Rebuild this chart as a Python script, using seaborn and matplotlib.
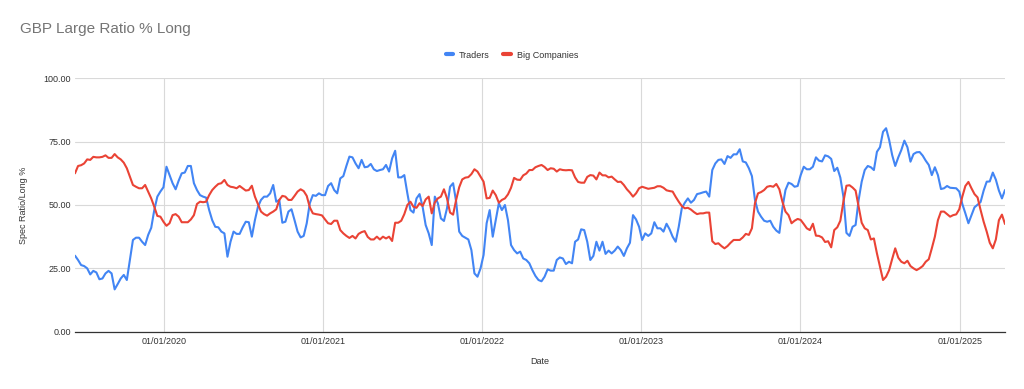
import numpy as np
import pandas as pd
import matplotlib
matplotlib.use("Agg")
import matplotlib.pyplot as plt
import matplotlib.dates as mdates
from matplotlib.lines import Line2D
from matplotlib.ticker import FixedLocator, FormatStrFormatter
import seaborn as sns

# ---- data (weekly) ----
start_date = "2019-06-11"

traders = [
    30.0, 28.3, 26.3, 25.9, 25.0, 22.6, 24.0, 23.4, 20.7, 21.0, 23.0, 24.0, 23.0, 16.7, 18.8, 21.0,
    22.4, 20.4, 28.3, 36.2, 37.1, 37.1, 35.5, 34.2, 38.2, 41.0, 48.0, 53.3, 55.3, 57.0, 65.1, 61.8,
    58.6, 56.2, 59.6, 62.5, 62.8, 65.4, 65.4, 58.6, 55.9, 53.9, 53.3, 52.9, 48.0, 44.0, 41.4, 41.2,
    39.5, 38.8, 29.6, 35.5, 39.5, 38.6, 38.6, 41.2, 43.4, 43.2, 37.5, 44.0, 49.3,
    52.0, 53.3, 53.3, 54.6, 57.9, 51.3, 52.0, 43.0, 43.4, 47.4, 48.3, 44.0, 39.5, 37.2, 37.8, 42.8,
    50.7, 53.9, 53.6, 54.6, 53.9, 53.9, 57.5, 58.6, 55.9, 54.6, 60.5, 61.4, 65.4, 69.1, 68.8, 66.4,
    64.5, 67.8, 64.9, 65.1, 66.2, 64.1, 63.4, 63.8, 64.1, 65.8, 63.2, 68.4, 71.4, 60.9, 60.9, 61.8,
    54.6, 48.0, 47.0, 52.6, 54.3, 49.3, 42.1, 38.8, 34.2, 53.3, 50.7,
    44.7, 43.7, 48.7, 57.2, 58.6, 51.3, 39.5, 37.8, 37.1, 36.4, 32.2, 23.0, 21.7, 25.0, 30.3, 42.8,
    48.0, 37.5, 44.0, 50.7, 48.0, 50.0, 44.0, 34.2, 32.2, 30.9, 31.6, 28.9, 28.3, 27.0, 24.3, 22.0,
    20.4, 19.9, 21.7, 24.6, 24.1, 24.1, 28.3, 29.3, 28.9, 26.7, 27.6, 27.0, 35.5, 36.4, 40.4, 40.1,
    35.5, 28.3, 29.9, 35.5, 32.0, 35.5, 30.7, 32.0, 30.9, 32.0, 33.6,
    32.2, 29.9, 32.9, 35.1, 46.0, 44.3, 41.4, 36.2, 38.8, 37.8, 38.8, 43.2, 40.8, 40.8, 39.5, 42.6,
    40.4, 37.5, 35.5, 41.4, 48.7, 50.9, 52.6, 50.9, 52.0, 54.3, 54.6, 55.0, 55.3, 53.3, 63.8, 66.4,
    67.8, 68.0, 66.2, 69.3, 68.6, 70.0, 70.0, 72.0, 67.2, 66.8, 64.5, 61.4, 52.0, 47.4, 45.4, 43.8,
    43.4, 43.8, 41.4, 39.9, 39.0, 48.7, 55.9, 58.8, 58.3, 57.2, 57.5,
    61.8, 65.1, 64.1, 64.1, 65.1, 68.8, 67.5, 67.2, 69.6, 69.2, 68.2, 63.4, 64.7, 60.8, 53.3, 39.0,
    37.8, 41.4, 42.1, 52.0, 59.2, 63.8, 65.4, 64.9, 63.8, 71.0, 72.8, 78.9, 80.3, 75.7, 69.7, 65.4,
    68.8, 71.7, 75.4, 72.8, 67.1, 70.1, 70.8, 70.9, 69.5, 67.5, 65.8, 61.8, 64.9, 61.8, 56.3, 56.6,
    57.5, 56.8, 56.7, 56.6, 55.3, 50.4, 46.7, 42.8, 46.0, 49.1, 50.1, 51.2, 55.7, 59.2, 59.3, 62.8,
    60.0, 55.7, 52.6, 55.9,
]

big_companies = [
    62.5, 65.4, 65.7, 66.4, 68.0, 67.8, 69.0, 68.8, 68.8, 69.0, 69.6, 68.6, 68.6, 70.1, 68.8, 68.0,
    66.7, 64.5, 61.2, 57.9, 57.2, 56.6, 56.6, 57.9, 55.3, 52.6, 49.3, 45.7, 45.4, 43.4, 41.8, 42.8,
    46.0, 46.4, 45.4, 43.2, 43.2, 43.2, 44.3, 46.0, 50.4, 51.3, 51.1, 51.3, 53.9, 55.9, 57.2, 58.3,
    58.6, 59.9, 57.9, 57.2, 57.0, 56.6, 57.5, 56.6, 55.7, 55.9, 57.6, 53.3, 50.4,
    47.4, 46.4, 45.8, 46.7, 47.4, 48.3, 52.0, 53.6, 53.3, 52.0, 52.0, 53.6, 55.3, 56.2, 55.5, 53.6,
    49.1, 46.7, 46.4, 46.2, 45.9, 44.3, 42.8, 42.5, 43.8, 43.8, 40.1, 38.8, 37.8, 37.0, 37.8, 36.8,
    38.6, 39.3, 39.7, 37.4, 36.4, 36.4, 37.5, 36.4, 37.5, 36.8, 37.5, 35.8, 43.0, 43.0, 43.8, 46.4,
    50.0, 51.3, 49.3, 48.9, 50.7, 49.6, 52.2, 53.3, 46.7, 51.0, 52.6,
    53.3, 56.2, 52.6, 47.0, 46.2, 52.0, 57.0, 60.1, 60.8, 61.0, 62.2, 64.1, 63.2, 61.2, 59.2, 52.6,
    52.8, 55.7, 53.9, 50.9, 52.0, 52.6, 54.2, 56.8, 60.7, 60.0, 59.9, 61.7, 62.4, 63.8, 63.8, 64.9,
    65.4, 65.8, 65.0, 63.8, 64.5, 64.3, 63.2, 64.1, 63.8, 63.7, 63.8, 63.7, 60.9, 59.1, 58.8, 58.8,
    61.1, 61.8, 61.6, 60.1, 62.8, 61.7, 61.7, 60.9, 61.2, 60.1, 59.1,
    59.2, 57.9, 56.2, 54.9, 53.3, 54.6, 56.6, 57.2, 56.8, 56.4, 56.6, 56.8, 57.4, 57.4, 56.8, 55.8,
    55.5, 55.3, 53.2, 51.3, 49.6, 48.7, 48.9, 48.2, 47.2, 46.4, 46.7, 46.7, 47.0, 47.0, 35.7, 34.6,
    34.9, 33.8, 32.9, 33.8, 35.1, 36.2, 36.2, 36.2, 37.2, 38.6, 38.2, 40.8, 50.7, 54.6, 55.1, 55.9,
    57.2, 57.5, 57.2, 58.3, 56.2, 51.3, 47.4, 46.0, 42.8, 43.8, 44.5,
    44.1, 42.5, 40.8, 40.1, 42.6, 37.9, 37.8, 37.2, 35.4, 35.7, 33.3, 40.1, 41.2, 43.8, 51.3, 57.6,
    57.8, 56.9, 55.7, 49.3, 43.0, 40.8, 40.1, 36.4, 36.8, 30.9, 25.7, 20.4, 21.7, 24.3, 28.7, 32.9,
    29.2, 27.6, 27.0, 28.0, 25.9, 25.0, 24.3, 25.0, 25.9, 27.6, 28.6, 32.9, 37.5, 44.0, 47.4, 47.4,
    46.4, 45.4, 46.0, 46.3, 48.3, 53.3, 57.5, 59.1, 56.6, 54.3, 53.0, 48.0, 43.4, 39.5, 35.1, 32.9,
    36.4, 44.0, 46.2, 42.5,
]

series_names = ["Traders", "Big Companies"]
colors = ["#4285F4", "#EA4335"]
y_ticks = [0, 25, 50, 75, 100]
x_tick_dates = ["2020-01-01", "2021-01-01", "2022-01-01", "2023-01-01", "2024-01-01", "2025-01-01"]
title = "GBP Large Ratio % Long"
y_label = "Spec Ratio/Long %"
x_label = "Date"

# ---- build long-form table ----
n = min(len(traders), len(big_companies))
dates = pd.date_range(start_date, periods=n, freq="7D")
df = pd.concat([
    pd.DataFrame({"Date": dates, "Value": traders[:n], "Series": series_names[0]}),
    pd.DataFrame({"Date": dates, "Value": big_companies[:n], "Series": series_names[1]}),
])

sns.set_theme(style="white")
plt.rcParams["font.family"] = ["Liberation Sans", "DejaVu Sans"]

fig = plt.figure(figsize=(10.24, 3.89), dpi=100)
ax = fig.add_axes([75 / 1024, (389 - 331.7) / 389, 930 / 1024, (331.7 - 78.3) / 389])

sns.lineplot(data=df, x="Date", y="Value", hue="Series", hue_order=series_names,
             palette=colors, linewidth=1.5, ax=ax, legend=False)

ax.set_xlim(dates[0], dates[-1])
ax.set_ylim(0, 100)
ax.yaxis.set_major_locator(FixedLocator(y_ticks))
ax.yaxis.set_major_formatter(FormatStrFormatter("%.2f"))
ax.xaxis.set_major_locator(FixedLocator(mdates.date2num(pd.to_datetime(x_tick_dates))))
ax.xaxis.set_major_formatter(mdates.DateFormatter("%d/%m/%Y"))

ax.grid(True, color="#d9d9d9", linewidth=0.8)
ax.set_axisbelow(True)
for s in ["top", "right", "left"]:
    ax.spines[s].set_visible(False)
ax.spines["bottom"].set_color("#333333")
ax.spines["bottom"].set_linewidth(0.9)
ax.tick_params(axis="both", length=0, labelsize=6.5, labelcolor="#333333")
ax.tick_params(axis="x", pad=4)
ax.tick_params(axis="y", pad=3)

ax.set_xlabel(x_label, fontsize=6.5, color="#333333", labelpad=8)
ax.set_ylabel(y_label, fontsize=6.5, color="#333333", labelpad=11)

fig.text(20 / 1024, 1 - 29 / 389, title, fontsize=11, color="#757575", va="center", ha="left")

handles = [Line2D([0], [0], color=c, linewidth=3, solid_capstyle="round") for c in colors]
fig.legend(handles, series_names, loc="center", bbox_to_anchor=(512 / 1024, 1 - 55 / 389),
           ncol=2, frameon=False, fontsize=6.5, handlelength=0.8, handletextpad=0.7,
           columnspacing=1.5, labelcolor="#333333")

fig.savefig("out.png", dpi=100)
